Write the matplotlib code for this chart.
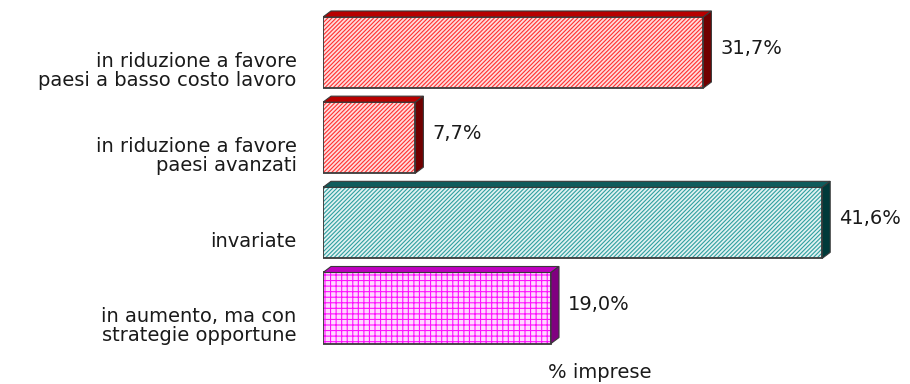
import matplotlib
matplotlib.use("Agg")
import matplotlib.pyplot as plt
from matplotlib.patches import Polygon

categories = [
    "in riduzione a favore\npaesi a basso costo lavoro",
    "in riduzione a favore\npaesi avanzati",
    "invariate",
    "in aumento, ma con\nstrategie opportune",
]
values = [31.7, 7.7, 41.6, 19.0]
axis_label = "% imprese"

hatch_colors = ["#FF3030", "#FF3030", "#2FA0A0", "#FF10FF"]
face_colors = ["#FFDCDC", "#FFDCDC", "#E2F2F2", "#FFD8FF"]
hatches = ["////////", "////////", "////////", "+++"]
top_colors = ["#B80000", "#B80000", "#0F5C5C", "#C000C0"]
side_colors = ["#700000", "#700000", "#003A3A", "#800080"]

plt.rcParams["font.family"] = ["DejaVu Sans"]
plt.rcParams["hatch.linewidth"] = 0.8

fig = plt.figure(figsize=(9.1, 3.84), dpi=100)
ax = fig.add_axes([323 / 910, 1 - 350 / 384, 576 / 910, 340 / 384])
ax.set_xlim(0, 48)
ax.set_ylim(3.493, -0.499)

pos = list(range(len(values)))
bar_h = 0.834

# depth of the 3D extrusion, given in pixels and converted to data units
px_x = 576 / 48.0
px_y = 340 / (3.493 + 0.499)
dx = 8 / px_x
dy = 6 / px_y

for i, (c, v) in enumerate(zip(pos, values)):
    ax.barh(c, v, height=bar_h, color=face_colors[i], hatch=hatches[i],
            edgecolor=hatch_colors[i], linewidth=0, zorder=2)
    ax.barh(c, v, height=bar_h, fill=False, edgecolor="#3a3a3a",
            linewidth=1.3, zorder=3)
    top = c - bar_h / 2
    bot = c + bar_h / 2
    ax.add_patch(Polygon([(0, top), (dx, top - dy), (v + dx, top - dy), (v, top)],
                         closed=True, facecolor=top_colors[i],
                         edgecolor="#3a3a3a", linewidth=0.8, zorder=3))
    ax.add_patch(Polygon([(v, top), (v + dx, top - dy), (v + dx, bot - dy), (v, bot)],
                         closed=True, facecolor=side_colors[i],
                         edgecolor="#3a3a3a", linewidth=0.8, zorder=3))
    ax.annotate(f"{v:.1f}".replace(".", ",") + "%", xy=(v, c),
                xytext=(17, 4), textcoords="offset pixels",
                ha="left", va="center", fontsize=14, color="#1a1a1a")

ax.set_yticks([c + 0.19 for c in pos])
ax.set_yticklabels(categories, fontsize=14, color="#1a1a1a", linespacing=1.0)
ax.tick_params(axis="y", length=0, pad=19)
ax.set_xticks([])
for s in ax.spines.values():
    s.set_visible(False)

fig.text(600 / 910, 1 - 373 / 384, axis_label, ha="center", va="center",
         fontsize=14, color="#1a1a1a")

fig.savefig("out.png", dpi=100)
